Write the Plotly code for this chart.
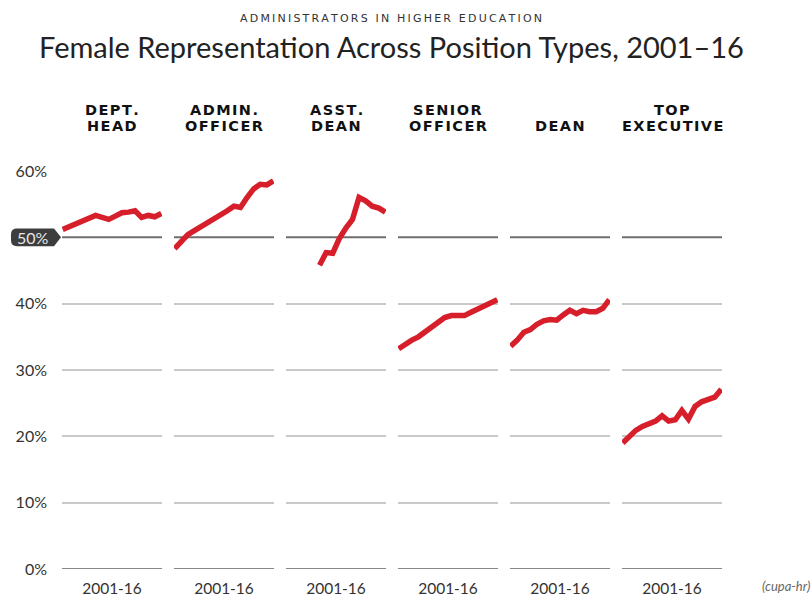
import plotly.graph_objects as go

W, H = 811, 597

# ---------------- data ----------------
header_line1 = ["DEPT.", "ADMIN.", "ASST.", "SENIOR", "", "TOP"]
header_line2 = ["HEAD", "OFFICER", "DEAN", "OFFICER", "DEAN", "EXECUTIVE"]
period_label = "2001-16"

years_full = list(range(2001, 2017))
years_asst = list(range(2006, 2017))

dept_head = [51.2, 51.6, 52.0, 52.4, 52.9, 53.3, 53.0, 52.7, 53.2, 53.7, 53.8, 54.0, 53.0, 53.3, 53.1, 53.6]
admin_officer = [48.3, 49.4, 50.4, 51.0, 51.6, 52.2, 52.6, 53.2, 54.0, 54.7, 54.5, 56.0, 57.3, 58.0, 57.9, 58.5]
asst_dean = [45.8, 47.7, 47.6, 49.8, 51.4, 52.7, 56.0, 55.5, 54.7, 54.4, 53.8]
senior_officer = [33.2, 33.9, 34.5, 35.0, 35.7, 36.5, 37.3, 37.9, 38.2, 38.3, 38.2, 38.7, 39.2, 39.7, 40.1, 40.6]
dean = [33.6, 34.5, 35.7, 36.1, 36.9, 37.4, 37.6, 37.5, 38.3, 39.0, 38.5, 39.0, 38.8, 38.8, 39.3, 40.6]
top_exec = [19.0, 19.9, 20.9, 21.5, 22.0, 22.3, 23.1, 22.3, 22.5, 23.9, 22.6, 24.5, 25.2, 25.6, 25.9, 27.1]

series = [
    (years_full, dept_head),
    (years_full, admin_officer),
    (years_asst, asst_dean),
    (years_full, senior_officer),
    (years_full, dean),
    (years_full, top_exec),
]

y_ticks = [0, 10, 20, 30, 40, 60]
y_ticktext = ["0%", "10%", "20%", "30%", "40%", "60%"]
badge_value = 50
badge_text = "50%"

subtitle = "ADMINISTRATORS IN HIGHER EDUCATION"
title = "Female Representation Across Position Types, 2001–16"

RED = "#d71f2b"
FONT = "Lato"


def spaced(s, sep):
    return sep.join(list(s))


# ---------------- layout geometry ----------------
left0, panel_w, step = 62, 100, 112
y_bottom_px, y_top_px = 569, 171
ydom = [(H - y_bottom_px) / H, (H - y_top_px) / H]

fig = go.Figure()
layout = dict(
    width=W, height=H,
    margin=dict(l=0, r=0, t=0, b=0, autoexpand=False),
    paper_bgcolor="white", plot_bgcolor="white",
    showlegend=False,
    font=dict(family=FONT, color="#333333"),
)

shapes = []
annotations = []
HFONT = dict(family="DejaVu Sans", size=14.5, color="#111111", weight="bold")

for i, (xs, ys) in enumerate(series):
    ax = "" if i == 0 else str(i + 1)
    x0 = (left0 + step * i) / W
    x1 = (left0 + step * i + panel_w) / W
    layout["xaxis" + ax] = dict(
        domain=[x0, x1], range=[2000.9, 2016.1], anchor="y",
        showgrid=False, zeroline=False, showline=False, automargin=False,
        tickvals=[2008.5], ticktext=[period_label], ticks="",
        tickfont=dict(family=FONT, size=15.5, color="#333333"),
        ticklabelstandoff=8,
        fixedrange=True,
    )
    fig.add_trace(go.Scatter(
        x=xs, y=ys, mode="lines", xaxis="x" + ax, yaxis="y",
        line=dict(color=RED, width=5.5, shape="linear"),
        hoverinfo="skip",
    ))
    # darker reference lines at 50% and 0%
    for yv, col in ((badge_value, "#6e6e6e"), (0, "#888888")):
        shapes.append(dict(
            type="line", xref="x" + ax + " domain", yref="y",
            x0=0, x1=1, y0=yv, y1=yv,
            line=dict(color=col, width=2), layer="below",
        ))
    cx = (left0 + step * i + panel_w / 2) / W
    if header_line1[i]:
        annotations.append(dict(
            text=spaced(header_line1[i], "\u200a"), x=cx, y=1 - 110 / H,
            xref="paper", yref="paper",
            xanchor="center", yanchor="middle", showarrow=False, font=HFONT,
        ))
    annotations.append(dict(
        text=spaced(header_line2[i], "\u200a"), x=cx, y=1 - 126 / H,
        xref="paper", yref="paper",
        xanchor="center", yanchor="middle", showarrow=False, font=HFONT,
    ))

layout["yaxis"] = dict(
    domain=ydom, range=[0, 60], anchor="x",
    tickvals=y_ticks, ticktext=y_ticktext, ticks="",
    showgrid=True, gridcolor="#c9c9c9", gridwidth=2,
    zeroline=False, showline=False, automargin=False,
    tickfont=dict(family=FONT, size=16, color="#333333"),
    ticklabelstandoff=14, fixedrange=True,
)

# 50% badge
bx0, bx1, tip = 11 / W, 54 / W, 61 / W
hh = 1.35
r = 6 / W
rv = 0.9
path = (
    f"M {bx0 + r} {badge_value - hh} L {bx1} {badge_value - hh} "
    f"L {tip} {badge_value} L {bx1} {badge_value + hh} L {bx0 + r} {badge_value + hh} "
    f"Q {bx0} {badge_value + hh} {bx0} {badge_value + hh - rv} L {bx0} {badge_value - hh + rv} "
    f"Q {bx0} {badge_value - hh} {bx0 + r} {badge_value - hh} Z"
)
shapes.append(dict(type="path", xref="paper", yref="y", path=path,
                   fillcolor="#3d3d3d", line=dict(width=0), layer="above"))
annotations.append(dict(
    text=badge_text, x=33 / W, y=badge_value, xref="paper", yref="y",
    xanchor="center", yanchor="middle", showarrow=False,
    font=dict(family=FONT, size=16, color="#e6e6e6"),
))

# titles
annotations.append(dict(
    text=spaced(subtitle, "\u2009"), x=391 / W, y=1 - 18 / H,
    xref="paper", yref="paper", xanchor="center", yanchor="middle", showarrow=False,
    font=dict(family="DejaVu Sans", size=11, color="#333333"),
))
annotations.append(dict(
    text=title, x=391 / W, y=1 - 47 / H,
    xref="paper", yref="paper", xanchor="center", yanchor="middle", showarrow=False,
    font=dict(family=FONT, size=29, color="#222222"),
))
# logo text
annotations.append(dict(
    text="<i>(cupa-hr)</i>", x=812 / W, y=1 - 586 / H,
    xref="paper", yref="paper", xanchor="right", yanchor="middle", showarrow=False,
    font=dict(family=FONT, size=13, color="#666666"),
))

layout["shapes"] = shapes
layout["annotations"] = annotations
fig.update_layout(**layout)
fig.write_html("out.html")
